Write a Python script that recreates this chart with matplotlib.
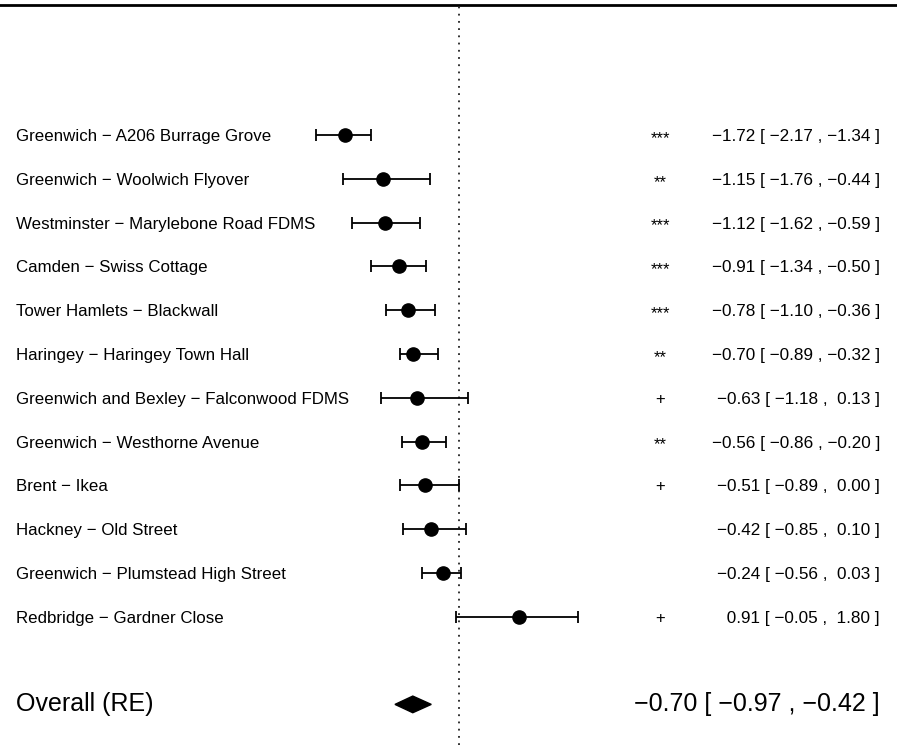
import matplotlib
matplotlib.use("Agg")
import matplotlib.pyplot as plt
from matplotlib.patches import Polygon

plt.rcParams['font.family'] = ['Liberation Sans', 'DejaVu Sans']

# Study-level effect sizes with 95% CIs
labels = [
    "Greenwich \u2212 A206 Burrage Grove",
    "Greenwich \u2212 Woolwich Flyover",
    "Westminster \u2212 Marylebone Road FDMS",
    "Camden \u2212 Swiss Cottage",
    "Tower Hamlets \u2212 Blackwall",
    "Haringey \u2212 Haringey Town Hall",
    "Greenwich and Bexley \u2212 Falconwood FDMS",
    "Greenwich \u2212 Westhorne Avenue",
    "Brent \u2212 Ikea",
    "Hackney \u2212 Old Street",
    "Greenwich \u2212 Plumstead High Street",
    "Redbridge \u2212 Gardner Close",
]
est = [-1.72, -1.15, -1.12, -0.91, -0.78, -0.70, -0.63, -0.56, -0.51, -0.42, -0.24, 0.91]
ci_lo = [-2.17, -1.76, -1.62, -1.34, -1.10, -0.89, -1.18, -0.86, -0.89, -0.85, -0.56, -0.05]
ci_hi = [-1.34, -0.44, -0.59, -0.50, -0.36, -0.32, 0.13, -0.20, 0.00, 0.10, 0.03, 1.80]
signif = ["***", "**", "***", "***", "***", "**", "+", "**", "+", "", "", "+"]

# Random-effects pooled estimate
overall_label = "Overall (RE)"
overall_est = -0.70
overall_lo = -0.97
overall_hi = -0.42


def fmt(v):
    s = f"{v:5.2f}"
    return s.replace("-", "\u2212")


def annot(e, lo, hi):
    return f"{fmt(e)} [ {fmt(lo)} , {fmt(hi)} ]"


W, H = 897, 745
fig = plt.figure(figsize=(W / 100, H / 100), dpi=100)
ax = fig.add_axes([0, 0, 1, 1])
ax.set_axis_off()

# x scale: 66 px per unit, zero at px 459
xs = 66.0
x0 = 459.0
ax.set_xlim(-x0 / xs, (W - x0) / xs)
# y scale: rows 43.8 px apart, top row at px 135
ys = 43.8
k = len(labels)
ytop = k + 135 / ys
ax.set_ylim(ytop - H / ys, ytop)

rows = [k - i for i in range(k)]

xlab = (16 - x0) / xs
xstar = (660 - x0) / xs
xann = (880 - x0) / xs
base = 6 / ys  # baseline sits a few px below the row centre

# top rule and reference line
ax.axhline(k + 3 - 0.03, color="black", lw=2.0)
ax.plot([0, 0], [ytop - H / ys, k + 3], color="#222222", lw=1.3,
        linestyle=(0, (1, 3)))

ax.errorbar(est, rows, xerr=[[e - l for e, l in zip(est, ci_lo)],
                             [h - e for e, h in zip(est, ci_hi)]],
            fmt="o", color="black", ms=9.5, elinewidth=1.3,
            capsize=4.5, capthick=1.3)

for y, lab, e, lo, hi, s in zip(rows, labels, est, ci_lo, ci_hi, signif):
    ax.text(xlab, y - base, lab, ha="left", va="baseline", fontsize=12.2)
    ax.text(xann, y - base, annot(e, lo, hi), ha="right", va="baseline",
            fontsize=12.3)
    if s == "+":
        ax.text(xstar, y - base, s, ha="center", va="baseline", fontsize=12)
    elif s:
        ax.text(xstar, y - 0.18, s, ha="center", va="baseline", fontsize=12)

# pooled estimate diamond
yo = -1
h = 0.19
ax.add_patch(Polygon([(overall_lo, yo), (overall_est, yo + h),
                      (overall_hi, yo), (overall_est, yo - h)],
                     closed=True, facecolor="black", edgecolor="black"))
ax.text(xlab, yo - 7 / ys, overall_label, ha="left", va="baseline", fontsize=18)
ax.text(xann, yo - 7 / ys, annot(overall_est, overall_lo, overall_hi),
        ha="right", va="baseline", fontsize=18)

fig.savefig("out.png", dpi=100)
